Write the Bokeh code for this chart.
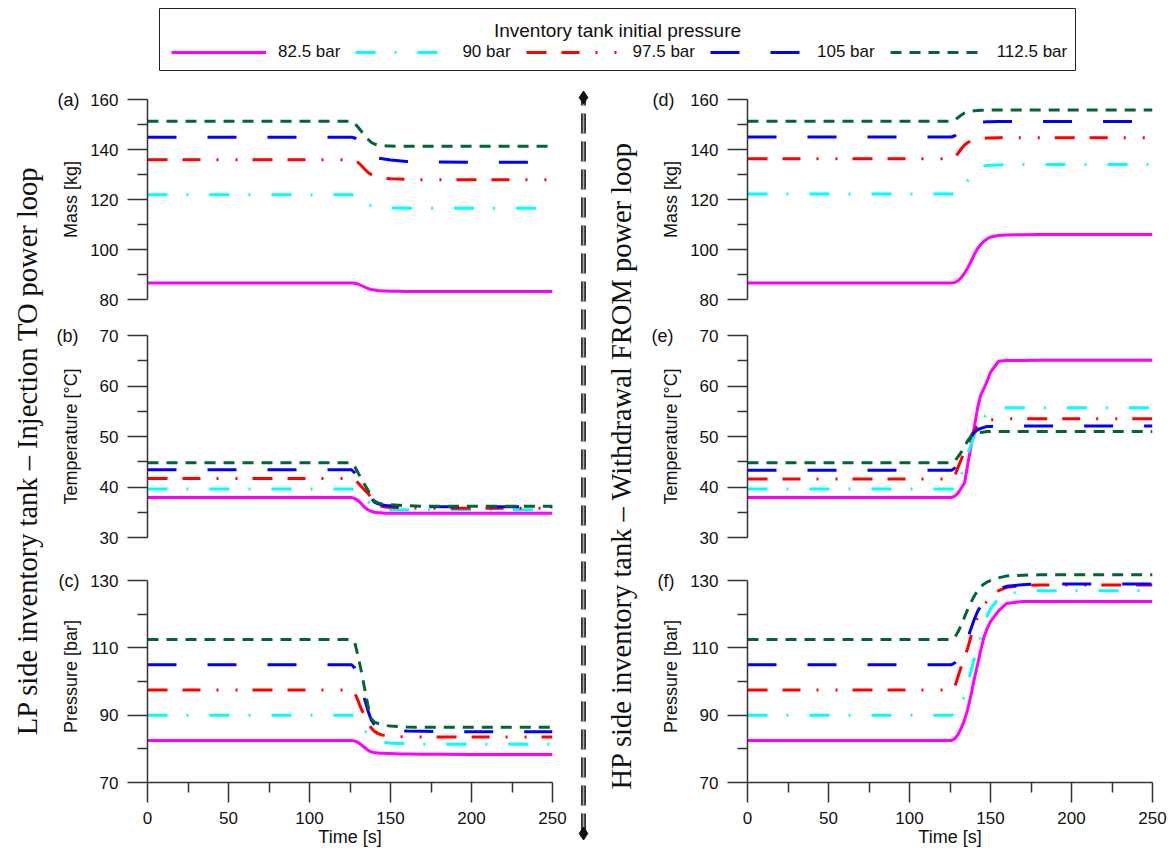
import numpy as np
from bokeh.plotting import figure
from bokeh.layouts import row, column
from bokeh.models import (Range1d, FixedTicker, LinearAxis, Label, Legend, LegendItem, Spacer)
from bokeh.embed import file_html
from bokeh.resources import INLINE

# ---------------- data ----------------
time_s = [0, 126, 128, 130, 132, 134, 136, 138, 140, 142, 144, 146, 148, 150, 155, 160, 170, 180, 200, 250]
legend_title = "Inventory tank initial pressure"
series_names = ["82.5 bar", "90 bar", "97.5 bar", "105 bar", "112.5 bar"]

time_ticks = [0, 50, 100, 150, 200, 250]
time_minor = [25, 75, 125, 175, 225]
mass_ticks = [80, 100, 120, 140, 160]
mass_minor = [90, 110, 130, 150]
temp_ticks = [30, 40, 50, 60, 70]
temp_minor = [35, 45, 55, 65]
pres_ticks = [70, 90, 110, 130]
pres_minor = [80, 100, 120]

# (a) LP side tank mass [kg]
lp_mass_825 = [86.6, 86.6, 86.5, 86.2, 85.6, 85.0, 84.4, 84.0, 83.8, 83.6, 83.5, 83.4, 83.4, 83.3, 83.3, 83.2, 83.2, 83.2, 83.2, 83.2]
lp_mass_90 = [121.9, 121.9, 121.7, 121.2, 120.3, 119.2, 118.2, 117.6, 117.2, 117.0, 116.9, 116.8, 116.7, 116.6, 116.6, 116.5, 116.5, 116.5, 116.5, 116.5]
lp_mass_975 = [135.9, 135.9, 135.6, 134.8, 133.6, 132.2, 130.9, 130.0, 129.4, 129.0, 128.7, 128.5, 128.4, 128.3, 128.2, 128.0, 127.9, 127.9, 127.9, 127.9]
lp_mass_105 = [144.9, 144.9, 144.6, 143.6, 142.0, 140.3, 138.8, 137.6, 136.9, 136.6, 136.4, 136.2, 136.0, 135.8, 135.5, 135.2, 135.0, 135.0, 134.9, 134.9]
lp_mass_1125 = [151.3, 151.3, 150.3, 148.9, 147.3, 145.7, 144.2, 142.9, 142.2, 141.8, 141.6, 141.5, 141.4, 141.4, 141.3, 141.3, 141.3, 141.3, 141.3, 141.3]

# (b) LP side tank temperature [oC]
lp_temp_825 = [37.9, 37.9, 37.7, 37.3, 36.7, 36.0, 35.5, 35.2, 35.0, 34.9, 34.9, 34.8, 34.8, 34.8, 34.8, 34.8, 34.8, 34.8, 34.8, 34.8]
lp_temp_90 = [39.6, 39.6, 39.3, 38.9, 38.3, 37.7, 37.1, 36.6, 36.2, 35.9, 35.7, 35.6, 35.6, 35.5, 35.5, 35.5, 35.5, 35.5, 35.5, 35.5]
lp_temp_975 = [41.7, 41.7, 41.4, 40.8, 40.1, 39.4, 38.8, 37.9, 37.0, 36.4, 36.2, 36.1, 36.0, 36.0, 35.9, 35.9, 35.8, 35.8, 35.8, 35.8]
lp_temp_105 = [43.4, 43.4, 42.8, 42.0, 41.0, 40.0, 39.0, 37.9, 37.0, 36.7, 36.5, 36.4, 36.3, 36.3, 36.2, 36.1, 36.1, 36.1, 36.1, 36.1]
lp_temp_1125 = [44.8, 44.8, 44.0, 42.8, 41.6, 40.5, 39.4, 38.2, 37.2, 36.9, 36.7, 36.6, 36.5, 36.5, 36.4, 36.3, 36.2, 36.2, 36.2, 36.2]

# (c) LP side tank pressure [bar]
lp_pres_825 = [82.5, 82.5, 82.3, 81.9, 81.2, 80.4, 79.6, 79.1, 78.9, 78.8, 78.7, 78.7, 78.6, 78.6, 78.5, 78.5, 78.4, 78.4, 78.3, 78.3]
lp_pres_90 = [90.0, 90.0, 89.3, 88.3, 86.9, 85.5, 84.3, 83.5, 83.0, 82.6, 82.2, 82.0, 81.8, 81.7, 81.6, 81.5, 81.4, 81.4, 81.4, 81.4]
lp_pres_975 = [97.5, 97.5, 96.5, 94.3, 91.8, 89.8, 88.0, 86.3, 85.2, 84.6, 84.2, 84.0, 83.8, 83.7, 83.6, 83.6, 83.5, 83.5, 83.5, 83.5]
lp_pres_105 = [105.0, 105.0, 104.0, 101.5, 98.5, 94.8, 91.5, 88.7, 87.3, 86.5, 86.0, 85.8, 85.6, 85.5, 85.4, 85.3, 85.2, 85.1, 85.1, 85.1]
lp_pres_1125 = [112.5, 112.5, 111.5, 107.5, 103.0, 98.0, 93.0, 89.0, 88.0, 87.6, 87.3, 87.1, 86.9, 86.8, 86.6, 86.5, 86.4, 86.4, 86.4, 86.4]

# (d) HP side tank mass [kg]
hp_mass_825 = [86.6, 86.6, 86.8, 87.5, 88.8, 90.5, 92.7, 95.2, 98.0, 100.3, 102.0, 103.3, 104.3, 105.0, 105.6, 105.8, 105.9, 106.0, 106.0, 106.0]
hp_mass_90 = [122.2, 122.2, 122.4, 123.0, 124.2, 125.8, 127.7, 129.6, 131.2, 132.3, 133.0, 133.4, 133.6, 133.7, 133.8, 133.9, 134.0, 134.0, 134.0, 134.0]
hp_mass_975 = [136.3, 136.3, 137.0, 138.5, 140.3, 141.8, 142.8, 143.5, 143.9, 144.2, 144.4, 144.5, 144.6, 144.6, 144.7, 144.7, 144.7, 144.7, 144.7, 144.7]
hp_mass_105 = [145.0, 145.0, 145.5, 146.6, 147.8, 148.9, 149.7, 150.2, 150.6, 150.8, 150.9, 151.0, 151.1, 151.1, 151.2, 151.2, 151.2, 151.2, 151.2, 151.2]
hp_mass_1125 = [151.3, 151.3, 151.8, 152.8, 153.8, 154.6, 155.0, 155.3, 155.5, 155.6, 155.7, 155.7, 155.8, 155.8, 155.8, 155.8, 155.8, 155.8, 155.8, 155.8]

# (e) HP side tank temperature [oC]
hp_temp_825 = [37.9, 37.9, 38.2, 38.8, 39.8, 40.8, 44.5, 48.0, 51.8, 55.6, 58.2, 59.5, 61.0, 62.7, 64.9, 65.05, 65.05, 65.1, 65.1, 65.1]
hp_temp_90 = [39.6, 39.6, 39.6, 39.8, 42.3, 44.8, 46.6, 48.3, 50.3, 51.9, 53.0, 53.8, 54.4, 54.9, 55.4, 55.7, 55.7, 55.7, 55.7, 55.7]
hp_temp_975 = [41.6, 41.6, 42.3, 43.9, 45.5, 47.2, 48.6, 50.0, 51.3, 52.1, 52.7, 53.0, 53.2, 53.3, 53.4, 53.5, 53.5, 53.5, 53.5, 53.5]
hp_temp_105 = [43.3, 43.3, 43.8, 44.8, 46.0, 47.4, 48.8, 50.0, 50.8, 51.3, 51.6, 51.8, 52.0, 52.0, 52.1, 52.1, 52.1, 52.1, 52.1, 52.1]
hp_temp_1125 = [44.8, 44.8, 45.2, 46.0, 46.9, 48.0, 49.2, 50.0, 50.5, 50.7, 50.8, 50.9, 51.0, 51.0, 51.0, 51.0, 51.0, 51.0, 51.0, 51.0]

# (f) HP side tank pressure [bar]
hp_pres_825 = [82.5, 82.5, 83.0, 84.3, 86.2, 88.6, 91.8, 96.0, 100.8, 105.0, 109.3, 113.3, 115.8, 117.8, 121.0, 123.2, 123.8, 123.8, 123.8, 123.8]
hp_pres_90 = [90.0, 90.0, 90.3, 91.2, 93.0, 95.8, 99.5, 103.2, 106.8, 110.0, 113.0, 116.5, 119.5, 121.6, 124.7, 126.0, 126.8, 127.0, 127.0, 127.0]
hp_pres_975 = [97.5, 97.5, 98.5, 101.5, 104.5, 107.3, 110.0, 113.5, 116.8, 119.0, 121.0, 122.7, 124.0, 125.5, 127.0, 128.0, 128.5, 128.7, 128.7, 128.7]
hp_pres_105 = [105.0, 105.0, 105.6, 106.8, 108.3, 110.3, 113.0, 115.8, 118.5, 120.8, 122.5, 124.0, 125.2, 126.2, 127.5, 128.3, 128.8, 129.0, 129.0, 129.0]
hp_pres_1125 = [112.5, 112.5, 113.2, 114.8, 116.8, 119.2, 121.5, 123.6, 125.4, 127.0, 128.2, 129.0, 129.6, 130.0, 130.8, 131.4, 131.6, 131.7, 131.7, 131.7]

# ---------------- styles ----------------
colors = ["#ff00ff", "#00ffff", "#ff0000", "#0000ff", "#006633"]
dashes = ["solid", "20 19 2 21", "20 15 18 16 2 17 2 15", "29 31", "11 8"]
SANS = "Liberation Sans"
SERIF = "Liberation Serif"
AXIS_COL = "#333333"
TXT_COL = "#111111"

LEFT_BORDER = 102
FRAME_W = 405


def style_axis(ax, ticks, minor, standoff=0):
    ax.ticker = FixedTicker(ticks=ticks, minor_ticks=minor)
    ax.axis_line_color = AXIS_COL
    ax.axis_line_width = 1.5
    ax.major_tick_line_color = AXIS_COL
    ax.major_tick_line_width = 1.5
    ax.minor_tick_line_color = AXIS_COL
    ax.minor_tick_line_width = 1.5
    ax.major_tick_out = 20
    ax.major_tick_in = 0
    ax.minor_tick_out = 10
    ax.minor_tick_in = 0
    ax.major_label_text_font = SANS
    ax.major_label_text_font_size = "17px"
    ax.major_label_text_color = TXT_COL
    ax.axis_label_text_font = SANS
    ax.axis_label_text_font_size = "18px"
    ax.axis_label_text_font_style = "normal"
    ax.axis_label_text_color = TXT_COL
    ax.axis_label_standoff = standoff


def panel(series, frame_range, ticks, minor, ylabel, tag, top, frame_h, bottom, width, mbr,
          show_x, ylab_standoff, tag_standoff):
    p = figure(width=width, height=top + frame_h + bottom,
               x_range=Range1d(0, 250), y_range=Range1d(*frame_range),
               x_axis_location="below" if show_x else None,
               output_backend="svg", toolbar_location=None,
               min_border_left=LEFT_BORDER, min_border_right=mbr,
               min_border_top=top, min_border_bottom=bottom)
    p.outline_line_color = None
    for g in p.grid:
        g.visible = False
    for vals, c, d in zip(series, colors, dashes):
        p.line(time_s, vals, line_color=c, line_width=3, line_dash=d)
    yax = p.yaxis[0]
    style_axis(yax, ticks, minor, ylab_standoff)
    yax.bounds = (ticks[0], ticks[-1])
    yax.major_label_standoff = 9
    yax.axis_label = ylabel
    if show_x:
        xax = p.xaxis[0]
        style_axis(xax, time_ticks, time_minor, 0)
        xax.major_label_standoff = 9
        xax.axis_label = "Time [s]"
    # panel tag "(a)" ... shown as the only tick label of an outer, line-less axis
    tag_axis = LinearAxis(ticker=FixedTicker(ticks=[ticks[-1]]),
                          major_label_overrides={ticks[-1]: tag},
                          axis_line_color=None, major_tick_line_color=None, minor_tick_line_color=None,
                          major_tick_out=0, minor_tick_out=0, major_tick_in=0, minor_tick_in=0,
                          major_label_standoff=tag_standoff,
                          major_label_text_font=SANS, major_label_text_font_size="18px",
                          major_label_text_color=TXT_COL)
    p.add_layout(tag_axis, "left")
    return p


# vertical bands (top border, frame height, bottom border)
bands = [(28, 200, 19), (17, 202, 21), (12, 212, 70)]
ranges = [((80, 160), mass_ticks, mass_minor, "Mass [kg]", 6),
          ((30, 70), temp_ticks, temp_minor, "Temperature [°C]", 16),
          ((70, 133), pres_ticks, pres_minor, "Pressure [bar]", 6)]

lp_series = [[lp_mass_825, lp_mass_90, lp_mass_975, lp_mass_105, lp_mass_1125],
             [lp_temp_825, lp_temp_90, lp_temp_975, lp_temp_105, lp_temp_1125],
             [lp_pres_825, lp_pres_90, lp_pres_975, lp_pres_105, lp_pres_1125]]
hp_series = [[hp_mass_825, hp_mass_90, hp_mass_975, hp_mass_105, hp_mass_1125],
             [hp_temp_825, hp_temp_90, hp_temp_975, hp_temp_105, hp_temp_1125],
             [hp_pres_825, hp_pres_90, hp_pres_975, hp_pres_105, hp_pres_1125]]
lp_tags = ["(a)", "(b)", "(c)"]
hp_tags = ["(d)", "(e)", "(f)"]

left_figs, right_figs = [], []
for i in range(3):
    (fr, ticks, minor, ylab, so) = ranges[i]
    top, fh, bot = bands[i]
    left_figs.append(panel(lp_series[i], fr, ticks, minor, ylab, lp_tags[i], top, fh, bot,
                           LEFT_BORDER + FRAME_W + 23, 23, i == 2, so, -21))
    right_figs.append(panel(hp_series[i], fr, ticks, minor, ylab, hp_tags[i], top, fh, bot,
                            LEFT_BORDER + FRAME_W + 16, 16, i == 2, so, -16))

ROW_H = sum(t + f + b for t, f, b in bands)  # 781
PAGE_BOTTOM = 852

# left vertical title
tl = figure(width=45, height=ROW_H, x_range=Range1d(0, 45), y_range=Range1d(0, ROW_H),
            x_axis_location=None, y_axis_location=None, output_backend="svg",
            toolbar_location=None, min_border=0)
tl.outline_line_color = None
for g in tl.grid:
    g.visible = False
tl.add_layout(Label(x=27, y=PAGE_BOTTOM - 450, angle=np.pi / 2,
                    text="LP side inventory tank – Injection TO power loop",
                    text_align="center", text_baseline="middle", text_font=SERIF,
                    text_font_size="28.5px", text_color=TXT_COL))

# separator + right vertical title
sep = figure(width=70, height=ROW_H, x_range=Range1d(0, 70), y_range=Range1d(0, ROW_H),
             x_axis_location=None, y_axis_location=None, output_backend="svg",
             toolbar_location=None, min_border=0)
sep.outline_line_color = None
for g in sep.grid:
    g.visible = False
SEP_X, SEP_Y0, SEP_Y1 = 8, PAGE_BOTTOM - 833, PAGE_BOTTOM - 97
sep.segment(x0=[SEP_X], y0=[SEP_Y0], x1=[SEP_X], y1=[SEP_Y1], line_color="#333333", line_width=5, line_dash="20 8")
sep.segment(x0=[SEP_X], y0=[SEP_Y0], x1=[SEP_X], y1=[SEP_Y1], line_color="#aaaaaa", line_width=1.5, line_dash="20 8")
sep.scatter(x=[SEP_X, SEP_X], y=[SEP_Y0, SEP_Y1], marker="diamond", size=13, color="#111111")
sep.add_layout(Label(x=46, y=PAGE_BOTTOM - 465, angle=np.pi / 2,
                     text="HP side inventory tank – Withdrawal FROM power loop",
                     text_align="center", text_baseline="middle", text_font=SERIF,
                     text_font_size="28.5px", text_color=TXT_COL))

# legend box (legend proxies use real data, which lies outside this box's 0..1 ranges)
leg = figure(width=918, height=64, x_range=Range1d(0, 1), y_range=Range1d(0, 1),
             x_axis_location=None, y_axis_location=None, output_backend="svg",
             toolbar_location=None, min_border=1)
leg.outline_line_color = "#222222"
leg.outline_line_width = 1
for g in leg.grid:
    g.visible = False
items = []
for name, vals, c, d in zip(series_names, lp_series[0], colors, dashes):
    r = leg.line(x=time_s, y=vals, line_color=c, line_width=3, line_dash=d)
    items.append(LegendItem(label=name, renderers=[r]))
legend = Legend(items=items, orientation="horizontal", location=(12, 8),
                glyph_width=95, glyph_height=20, label_standoff=12, spacing=15,
                padding=0, margin=0, border_line_alpha=0, background_fill_alpha=0,
                label_text_font=SANS, label_text_font_size="17px", label_text_color=TXT_COL)
leg.add_layout(legend)
leg.add_layout(Label(x=0.5, y=0.645, text=legend_title, text_align="center", text_baseline="middle",
                     text_font=SANS, text_font_size="19px", text_color=TXT_COL))

layout = column(
    Spacer(width=10, height=7),
    row(Spacer(width=158, height=64), leg),
    row(tl, column(*left_figs), sep, column(*right_figs)),
)

open("out.html", "w").write(file_html(layout, INLINE))
